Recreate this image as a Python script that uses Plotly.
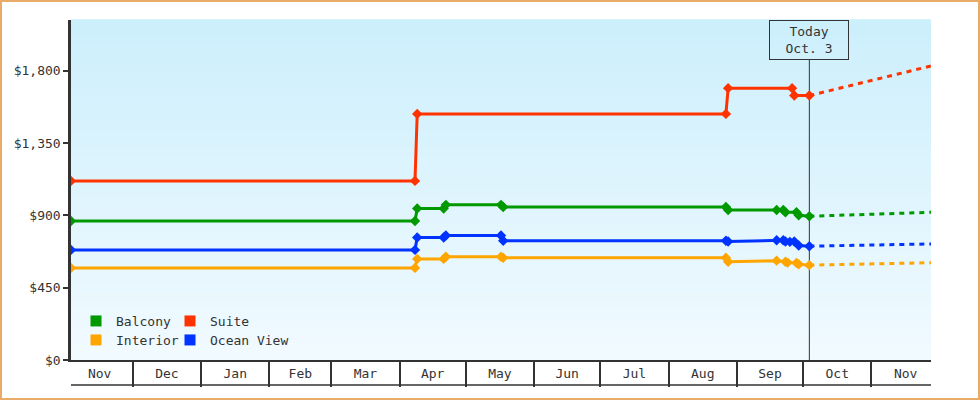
import plotly.graph_objects as go

FONT = "DejaVu Sans Mono"
INK = "#333333"
GREEN = "#009900"
RED = "#ff3300"
ORANGE = "#ffa500"
BLUE = "#0033ff"
FRAME = "#e9ab6a"

# observed prices (step changes are two points a day apart)
suite_dates = ["2022-11-03", "2023-04-08", "2023-04-09", "2023-08-27", "2023-08-28",
               "2023-09-26", "2023-09-27", "2023-10-03 20:00"]
suite_prices = [1114, 1114, 1531, 1531, 1691, 1691, 1645, 1645]

balcony_dates = ["2022-11-03", "2023-04-08", "2023-04-09", "2023-04-21", "2023-04-22",
                 "2023-05-17", "2023-05-18", "2023-08-27", "2023-08-28", "2023-09-19",
                 "2023-09-22", "2023-09-23", "2023-09-28", "2023-09-29", "2023-10-03 20:00"]
balcony_prices = [865, 865, 942, 942, 965, 965, 952, 952, 933, 933, 933, 919, 919, 900, 894]

ocean_dates = ["2022-11-03", "2023-04-08", "2023-04-09", "2023-04-21", "2023-04-22",
               "2023-05-17", "2023-05-18", "2023-08-27", "2023-08-28", "2023-09-19",
               "2023-09-22", "2023-09-23", "2023-09-25", "2023-09-27", "2023-09-29",
               "2023-10-03 20:00"]
ocean_prices = [685, 685, 762, 762, 774, 774, 742, 742, 737, 745, 745, 737, 735, 737, 712, 708]

interior_dates = ["2022-11-03", "2023-04-08", "2023-04-09", "2023-04-21", "2023-04-22",
                  "2023-05-17", "2023-05-18", "2023-08-27", "2023-08-28", "2023-09-19",
                  "2023-09-23", "2023-09-24", "2023-09-28", "2023-09-29", "2023-10-03 20:00"]
interior_prices = [573, 573, 629, 629, 642, 642, 636, 636, 611, 618, 611, 606, 604, 596, 590]

# forecast from today to the end of the range
forecast_dates = ["2023-10-03 20:00", "2023-11-28"]
suite_forecast = [1645, 1829]
balcony_forecast = [894, 919]
ocean_forecast = [708, 722]
interior_forecast = [590, 605]

TODAY = "2023-10-03 20:00"
TODAY_LABEL = "Today<br>Oct. 3"
X_RANGE = ["2022-11-03", "2023-11-28"]
Y_RANGE = [0, 2115]
Y_TICKS = [0, 450, 900, 1350, 1800]
Y_TICK_LABELS = ["$0", "$450", "$900", "$1,350", "$1,800"]

# name, colour, dates, prices, forecast, legend slot (px of swatch row)
series = [
    ("Balcony", GREEN, balcony_dates, balcony_prices, balcony_forecast, (76, 321)),
    ("Suite", RED, suite_dates, suite_prices, suite_forecast, (170, 321)),
    ("Interior", ORANGE, interior_dates, interior_prices, interior_forecast, (76, 340)),
    ("Ocean View", BLUE, ocean_dates, ocean_prices, ocean_forecast, (170, 340)),
]

# plot area geometry in px, used to place things outside it
W, H = 980, 400
L, R, T, B = 71, 49, 20, 40
pw, ph = W - L - R, H - T - B

def px_x(x):
    return (x - L) / pw

def px_y(y):
    return (H - B - y) / ph

fig = go.Figure()
legends = {}

for i, (name, color, dates, prices, forecast, slot) in enumerate(series):
    leg = "legend" if i == 0 else "legend%d" % (i + 1)
    legends[leg] = dict(
        x=px_x(slot[0]), y=px_y(slot[1]), xanchor="left", yanchor="middle",
        bgcolor="rgba(0,0,0,0)", font=dict(family=FONT, size=13, color=INK),
        itemwidth=30,
    )
    fig.add_trace(go.Scatter(
        x=forecast_dates, y=forecast, mode="lines",
        line=dict(color=color, width=3, dash="5px,5px"),
        showlegend=False, hoverinfo="skip",
    ))
    fig.add_trace(go.Scatter(
        x=dates, y=prices, mode="lines+markers", name=name,
        line=dict(color=color, width=3),
        marker=dict(symbol="diamond", size=8, color=color),
        showlegend=False,
    ))
    # square swatch for the legend
    fig.add_trace(go.Scatter(
        x=[None], y=[None], mode="markers", name=name, legend=leg,
        marker=dict(symbol="square", size=11, color=color),
    ))

# vertical gradient background
top_c = (204, 239, 252)
bot_c = (241, 250, 255)
bands = 40
shapes = []
for i in range(bands):
    f = i / (bands - 1)
    c = tuple(round(bot_c[k] + (top_c[k] - bot_c[k]) * f) for k in range(3))
    shapes.append(dict(type="rect", xref="paper", yref="paper",
                       x0=0, x1=1, y0=i / bands, y1=(i + 1) / bands + 0.002,
                       fillcolor="rgb(%d,%d,%d)" % c, line=dict(width=0), layer="below"))

shapes += [
    dict(type="line", xref="x", yref="paper", x0=TODAY, x1=TODAY, y0=0, y1=px_y(60),
         line=dict(color=INK, width=1), layer="below"),
    dict(type="line", xref="paper", yref="paper", x0=0, x1=1, y0=px_y(385), y1=px_y(385),
         line=dict(color=INK, width=1.5)),
    dict(type="rect", xref="paper", yref="paper", x0=px_x(1), x1=px_x(979),
         y0=px_y(399), y1=px_y(1), line=dict(color=FRAME, width=2)),
]

fig.update_layout(
    width=W, height=H,
    margin=dict(l=L, r=R, t=T, b=B),
    paper_bgcolor="white",
    plot_bgcolor="rgba(0,0,0,0)",
    font=dict(family=FONT, size=13, color=INK),
    showlegend=True,
    shapes=shapes,
    annotations=[dict(
        x=TODAY, xref="x", y=1, yref="paper", yanchor="top", xanchor="center",
        text=TODAY_LABEL, showarrow=False, bordercolor=INK, borderwidth=1,
        borderpad=3, width=72, height=32, font=dict(family=FONT, size=13, color=INK),
    )],
    xaxis=dict(
        type="date", range=X_RANGE, tick0="2022-11-01", dtick="M1",
        tickformat="%b", ticklabelmode="period",
        ticks="outside", ticklen=25, tickwidth=1.5, tickcolor=INK,
        ticklabelstandoff=-25,
        showline=True, linewidth=2, linecolor=INK, showgrid=False, zeroline=False,
    ),
    yaxis=dict(
        range=Y_RANGE, tickvals=Y_TICKS, ticktext=Y_TICK_LABELS,
        ticks="outside", ticklen=5, tickwidth=2, tickcolor=INK,
        showline=True, linewidth=2.5, linecolor=INK, showgrid=False, zeroline=False,
    ),
    **legends,
)

# page has no body margin, so the frame sits on the window edge
fig.write_html("out.html", config={"displayModeBar": False},
               post_script="document.body.style.margin='0';")
